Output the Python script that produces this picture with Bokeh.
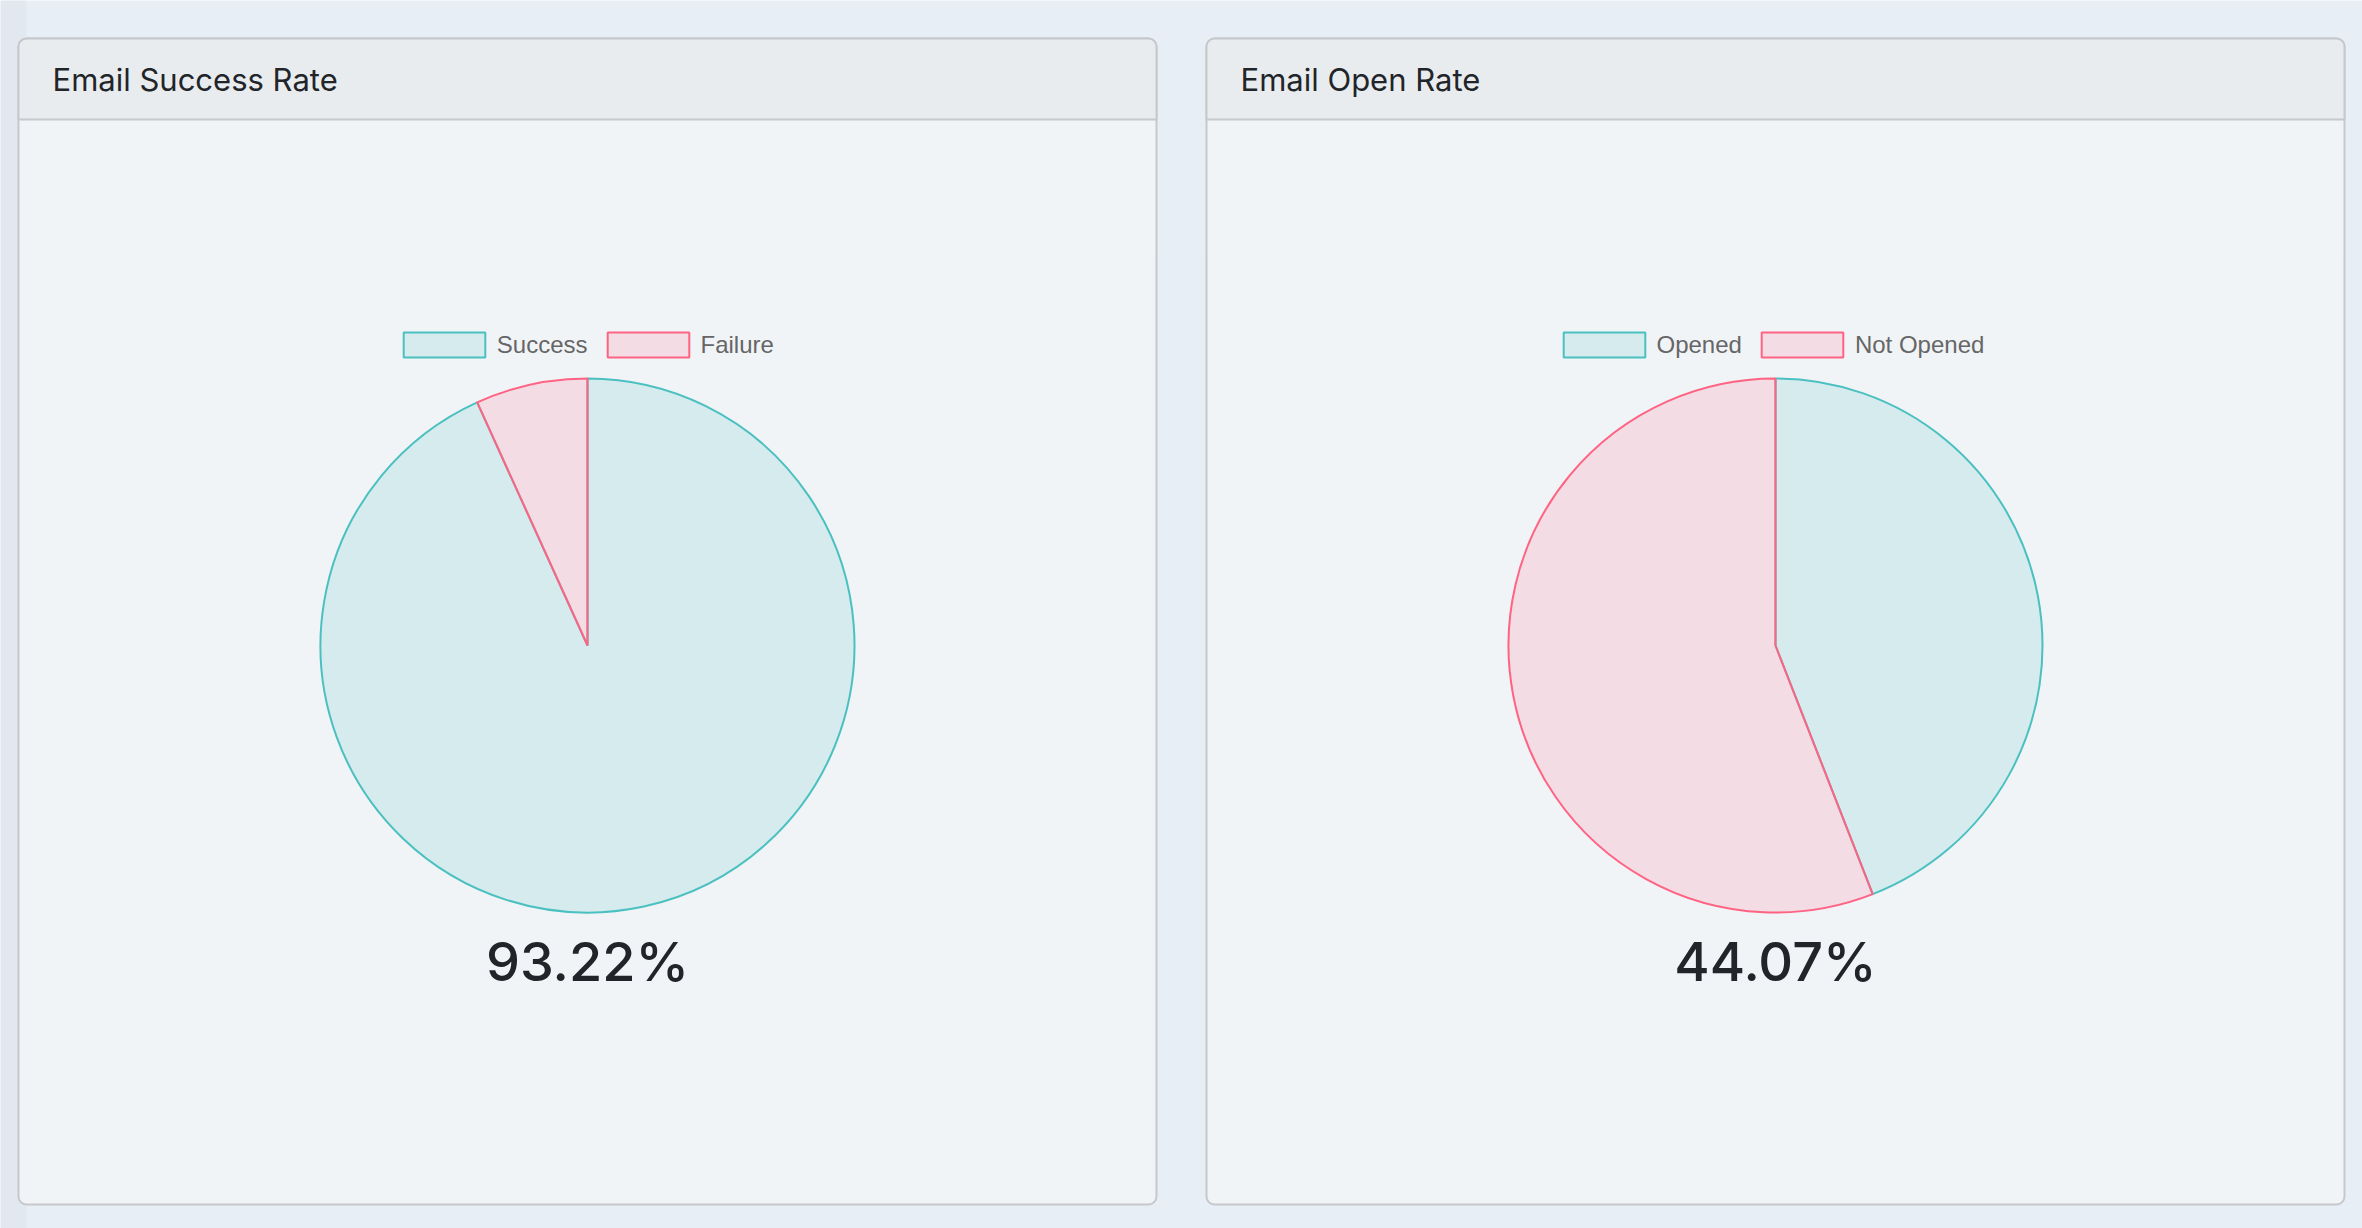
import math
from bokeh.plotting import figure
from bokeh.models import ColumnDataSource, Range1d, BoxAnnotation, Label, Legend, LegendItem
from bokeh.embed import file_html
from bokeh.resources import INLINE

W, H = 2362, 1228

# ---- data ----
titles = ["Email Success Rate", "Email Open Rate"]
success_labels = ["Success", "Failure"]
success_counts = [55, 4]
open_labels = ["Opened", "Not Opened"]
open_counts = [26, 33]

slice_colors = ["#4bc0c0", "#ff6384"]

# ---- figure ----
p = figure(width=W, height=H, x_range=Range1d(0, W), y_range=Range1d(0, H),
           output_backend="svg", toolbar_location=None, min_border=0,
           background_fill_color="#e8eef6", border_fill_color="#e8eef6",
           outline_line_color=None)
p.axis.visible = False
p.grid.visible = False


def Y(y):
    return H - y


# subtle left strip of the page
p.add_layout(BoxAnnotation(left=0, right=26, bottom=0, top=H, fill_color="#e2e8ef",
                           fill_alpha=1, line_color=None, level="underlay"))

cards = [(18, 1156), (1206, 2344)]
legend_x0 = [392.8, 1552.5]
pie_cy = 645
pie_r = 267

for i, ((l, r), title, labels, counts) in enumerate(
        zip(cards, titles, [success_labels, open_labels], [success_counts, open_counts])):
    # card body
    p.add_layout(BoxAnnotation(left=l, right=r, top=Y(38), bottom=Y(1204),
                               fill_color="#f1f4f7", fill_alpha=1,
                               line_color="#c6c8cb", line_alpha=1, line_width=2,
                               border_radius=8, level="underlay"))
    # card header
    p.add_layout(BoxAnnotation(left=l, right=r, top=Y(38), bottom=Y(119),
                               fill_color="#e9ecef", fill_alpha=1,
                               line_color="#c6c8cb", line_alpha=1, line_width=2,
                               border_radius=(8, 8, 0, 0), level="underlay"))
    p.add_layout(Label(x=l + 34, y=Y(79), text=title, text_font="Inter",
                       text_font_size="31px", text_color="#212529",
                       text_baseline="alphabetic"))

    n = len(counts)
    total = sum(counts)
    fr = [c / total for c in counts]
    cum = [0.0]
    for f in fr:
        cum.append(cum[-1] + f)
    start = [math.pi / 2 - 2 * math.pi * cum[k] for k in range(n)]
    end = [math.pi / 2 - 2 * math.pi * cum[k + 1] for k in range(n)]
    cx = (l + r) / 2
    src = ColumnDataSource(dict(x=[cx] * n, y=[Y(pie_cy)] * n, start=start, end=end,
                                color=slice_colors[:n], label=labels))
    rend = p.wedge(x="x", y="y", radius=pie_r, start_angle="start", end_angle="end",
                   direction="clock", fill_color="color", fill_alpha=0.17,
                   line_color="color", line_width=2, source=src)

    items = [LegendItem(label=labels[k], renderers=[rend], index=k) for k in range(n)]
    legend = Legend(items=items, location=(legend_x0[i], Y(360)), orientation="horizontal",
                    glyph_width=102, glyph_height=31, label_standoff=2, spacing=9,
                    padding=0, margin=0, background_fill_alpha=0, border_line_color=None,
                    label_text_font="Liberation Sans", label_text_font_size="24px",
                    label_text_color="#666666")
    p.add_layout(legend, "center")

    p.add_layout(Label(x=cx, y=Y(961), text=f"{fr[0] * 100:.2f}%", text_align="center",
                       text_baseline="alphabetic", text_font="'Inter Medium', Inter",
                       text_font_size="54px", text_color="#212529"))

open("out.html", "w").write(file_html(p, INLINE))
